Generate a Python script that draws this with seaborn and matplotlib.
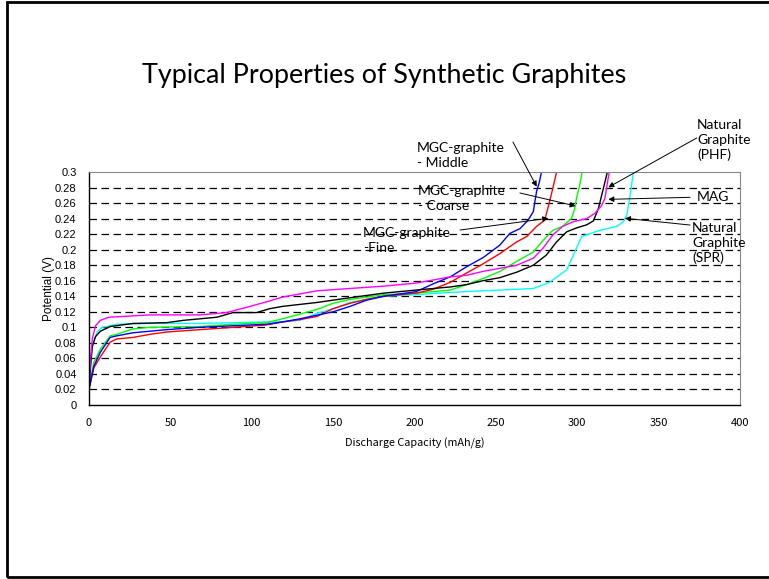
import numpy as np
import pandas as pd
import matplotlib
matplotlib.use("Agg")
import matplotlib.pyplot as plt
from matplotlib.patches import Rectangle
import seaborn as sns

# ---------------- data ----------------
mag_x = [0, 1, 2, 4, 7, 12, 37.5, 68, 84.6, 99, 111, 119, 140, 160, 181, 191, 201, 211.5, 222, 232, 242,
         252.5, 262.8, 273, 279, 285, 291, 297.5, 305.8, 311, 315, 317, 319, 319.7]
mag_y = [0.025, 0.06, 0.085, 0.102, 0.109, 0.113, 0.116, 0.116, 0.119, 0.127, 0.134, 0.139, 0.147, 0.150,
         0.153, 0.155, 0.157, 0.161, 0.165, 0.167, 0.172, 0.176, 0.180, 0.189, 0.202, 0.219, 0.230, 0.236,
         0.240, 0.247, 0.257, 0.266, 0.292, 0.300]

phf_x = [0, 1, 2, 4, 7, 13, 27, 47.7, 58, 78.5, 88.6, 103, 111, 119, 140, 160, 181, 201, 222, 232, 242,
         252.5, 262.8, 273, 281, 287.3, 293.5, 299.6, 305.8, 309.9, 313, 315, 317, 318.5]
phf_y = [0.02, 0.05, 0.075, 0.088, 0.095, 0.101, 0.105, 0.106, 0.109, 0.113, 0.119, 0.119, 0.124, 0.127,
         0.132, 0.138, 0.144, 0.148, 0.152, 0.155, 0.160, 0.164, 0.171, 0.180, 0.193, 0.210, 0.223, 0.228,
         0.232, 0.237, 0.253, 0.270, 0.287, 0.300]

fine_x = [0, 1, 3, 7, 13, 17, 27, 37.5, 47.7, 68, 88.6, 109, 119, 129.6, 140, 150, 160.4, 170.6, 181, 201,
          211.5, 222, 232, 242.3, 252.5, 262.8, 269, 275, 280, 283, 285, 287.3]
fine_y = [0.02, 0.03, 0.048, 0.062, 0.081, 0.085, 0.087, 0.091, 0.094, 0.097, 0.100, 0.103, 0.107, 0.110,
          0.114, 0.124, 0.131, 0.136, 0.140, 0.144, 0.149, 0.158, 0.170, 0.182, 0.195, 0.210, 0.217, 0.230,
          0.238, 0.262, 0.279, 0.300]

mid_x = [0, 1, 3, 7, 13, 17, 27, 47.7, 68, 88.6, 109, 119, 129.6, 150, 160.4, 170.6, 181, 191, 201, 211.5,
         222, 232, 242.3, 252.5, 258.6, 264.8, 269.8, 273, 275, 276.6, 278]
mid_y = [0.02, 0.03, 0.05, 0.068, 0.087, 0.089, 0.093, 0.097, 0.100, 0.102, 0.104, 0.107, 0.111, 0.120,
         0.127, 0.135, 0.140, 0.143, 0.146, 0.156, 0.165, 0.178, 0.190, 0.206, 0.221, 0.227, 0.238, 0.249,
         0.275, 0.286, 0.300]

coarse_x = [0, 1, 3, 7, 13, 17, 27, 37.5, 68, 88.6, 109, 119, 140, 150, 160.4, 181, 201, 211.5, 222, 232,
            242.3, 252.5, 262.8, 273, 279, 285, 291, 296.4, 298.5, 299.5, 301.5, 303]
coarse_y = [0.02, 0.035, 0.055, 0.072, 0.089, 0.091, 0.098, 0.100, 0.101, 0.104, 0.106, 0.111, 0.123, 0.131,
            0.136, 0.142, 0.144, 0.146, 0.148, 0.155, 0.163, 0.172, 0.185, 0.197, 0.212, 0.225, 0.230, 0.240,
            0.253, 0.266, 0.283, 0.300]

spr_x = [0, 0.3, 1, 2.5, 5, 8, 13, 17, 37.5, 68, 88.6, 109, 119, 129.6, 140, 150, 160.4, 181, 201, 222, 242,
         252.5, 273, 283, 293.5, 297.6, 302.7, 314, 324.3, 328.4, 330.5, 332.5, 334.5]
spr_y = [0, 0.03, 0.06, 0.08, 0.094, 0.100, 0.102, 0.104, 0.105, 0.105, 0.106, 0.107, 0.107, 0.109, 0.118,
         0.124, 0.132, 0.140, 0.142, 0.145, 0.147, 0.148, 0.150, 0.158, 0.174, 0.193, 0.217, 0.225, 0.230,
         0.236, 0.245, 0.270, 0.300]

series_names = ["Natural Graphite (SPR)", "MGC-graphite - Coarse", "MGC-graphite - Fine",
                "MGC-graphite - Middle", "Natural Graphite (PHF)", "MAG"]
series_colors = ["#00FFFF", "#00FF00", "#FF0000", "#0000FF", "#000000", "#FF00FF"]
series_data = [(spr_x, spr_y), (coarse_x, coarse_y), (fine_x, fine_y),
               (mid_x, mid_y), (phf_x, phf_y), (mag_x, mag_y)]

x_ticks = [0, 50, 100, 150, 200, 250, 300, 350, 400]
y_ticks = [0, 0.02, 0.04, 0.06, 0.08, 0.1, 0.12, 0.14, 0.16, 0.18, 0.2, 0.22, 0.24, 0.26, 0.28, 0.3]
y_tick_labels = ["0", "0.02", "0.04", "0.06", "0.08", "0.1", "0.12", "0.14", "0.16", "0.18", "0.2",
                 "0.22", "0.24", "0.26", "0.28", "0.3"]

# annotations: text, text anchor (x, y), arrow tail, arrow head
ann_texts = ["MGC-graphite\n- Middle", "MGC-graphite\n- Coarse", "MGC-graphite\n-Fine",
             "Natural\nGraphite\n(PHF)", "MAG", "Natural\nGraphite\n(SPR)"]
ann_text_pos = [(201.5, 0.3212), (202.2, 0.2659), (168.4, 0.2118),
                (373.6, 0.3412), (373.6, 0.2678), (370.5, 0.2086)]
ann_tail = [(260.5, 0.3386), (264.8, 0.2730), (228.0, 0.2253),
            (373.4, 0.3438), (369.3, 0.2674), (369.3, 0.2317)]
ann_head = [(275.1, 0.2811), (299.0, 0.2562), (282.2, 0.2404),
            (319.1, 0.2803), (319.1, 0.2648), (329.3, 0.2404)]

rows = []
for name, (xs, ys) in zip(series_names, series_data):
    for xv, yv in zip(xs, ys):
        rows.append({"cap": xv, "pot": yv, "series": name})
df = pd.DataFrame(rows)

# ---------------- figure ----------------
sns.set_theme(style="white")
plt.rcParams["font.family"] = ["Lato", "DejaVu Sans"]

W, H = 769, 579
fig = plt.figure(figsize=(W / 100, H / 100), dpi=100)
fig.patch.set_facecolor("white")

# slide frame
fig.add_artist(Rectangle((7 / W, 2 / H), 1.05, 575 / H, transform=fig.transFigure,
                         fill=False, edgecolor="black", linewidth=2.0))

fig.text(384 / W, 1 - 75 / H, "Typical Properties of Synthetic Graphites",
         ha="center", va="center", fontsize=19.4, color="black", family=["Lato", "DejaVu Sans"])

ax = fig.add_axes([89 / W, 1 - 405 / H, (740 - 89) / W, (405 - 172) / H])
ax.set_facecolor("white")

sns.lineplot(data=df, x="cap", y="pot", hue="series", hue_order=series_names,
             palette=dict(zip(series_names, series_colors)), sort=False,
             estimator=None, linewidth=1.0, legend=False, ax=ax)

narrow = ["Noto Sans CJK JP", "DejaVu Sans"]
ax.set_xlim(0, 400)
ax.set_ylim(0, 0.3)
ax.set_xticks(x_ticks)
ax.set_xticklabels([str(t) for t in x_ticks], family=narrow, fontsize=8)
ax.set_yticks(y_ticks)
ax.set_yticklabels(y_tick_labels, family=["Liberation Sans", "DejaVu Sans"], fontsize=8)
ax.tick_params(axis="both", direction="in", length=4, width=0.8, color="black", colors="black")
ax.tick_params(axis="x", pad=9)
ax.tick_params(axis="y", pad=9)

for yv in y_ticks[1:-1]:
    ax.axhline(yv, color="black", linewidth=0.9, linestyle=(0, (6, 3.6)), zorder=0.5)

for side in ["left", "bottom"]:
    ax.spines[side].set_color("black")
    ax.spines[side].set_linewidth(1.0)
for side in ["top", "right"]:
    ax.spines[side].set_color("#888888")
    ax.spines[side].set_linewidth(0.8)

ax.set_xlabel("Discharge Capacity (mAh/g)", family=narrow,
              fontsize=7.8, labelpad=7, color="black")
ax.set_ylabel("Potential (V)", family=["Liberation Sans", "DejaVu Sans"], fontsize=8.5,
              labelpad=0, color="black")

for txt, tp, tail, head in zip(ann_texts, ann_text_pos, ann_tail, ann_head):
    ax.text(tp[0], tp[1], txt, ha="left", va="center", fontsize=10, linespacing=1.25,
            color="black", clip_on=False, family=["Lato", "DejaVu Sans"])
    ax.annotate("", xy=head, xytext=tail, annotation_clip=False,
                arrowprops=dict(arrowstyle="-|>", color="black", lw=0.7,
                                mutation_scale=8, shrinkA=0, shrinkB=0))

fig.savefig("out.png", dpi=100, facecolor="white")
